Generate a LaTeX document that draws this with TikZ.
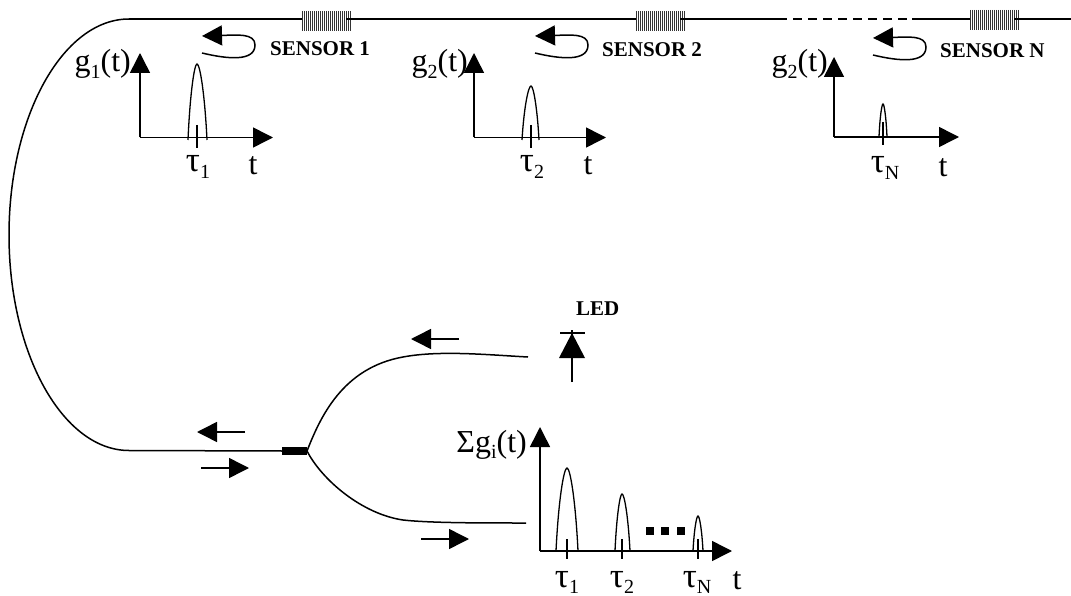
\documentclass[tikz,border=0pt]{standalone}
\usepackage{fontspec}
\setmainfont{Liberation Serif}
\usetikzlibrary{arrows.meta}
\newcommand{\lowr}[1]{\raisebox{-0.2em}{\fontsize{20}{20}\selectfont #1}}
\newcommand{\tauf}[1]{{\fontsize{35}{35}\selectfont τ}\lowr{#1}}
\newcommand{\axesat}[5]{% name, ox, oy, topy, rightx
  \coordinate (#1o) at (#2,#3);
  \coordinate (#1y) at (#2,#4);
  \coordinate (#1x) at (#5,#3);
  \draw[bigtip] (#1o) -- (#1y);
  \draw[bigtip] (#1o) -- (#1x);
}
\newcommand{\pulse}[7]{% name, left, right, centre, top, base, tick top
  \coordinate (#1l) at (#2,#6);
  \coordinate (#1r) at (#3,#6);
  \coordinate (#1t) at (#4,#5);
  \draw[pulseline] (#1l) .. controls ({#2+0.22*(#4-#2)},{#6-0.6*(#6-#5)}) and ({#4-0.3*(#4-#2)},#5) .. (#1t)
     .. controls ({#4+0.3*(#3-#4)},#5) and ({#3-0.22*(#3-#4)},{#6-0.6*(#6-#5)}) .. (#1r);
  \coordinate (#1a) at (#4,#7);
  \coordinate (#1b) at (#4,{#6+8});
  \draw[pulseline] (#1a) -- (#1b);
}
\newcommand{\gratingat}[3]{% name, left x, y
  \node[gratingbox] (#1) at (#2+24.5,#3) {};
  \foreach \i in {0,2,...,48} {\draw[black!80,line width=1.2pt] (#2+\i+0.5,#3-10) -- (#2+\i+0.5,#3+10);}
}
\newcommand{\loopat}[3]{% name, tip x, tip y
  \coordinate (#1s) at (#2,#3+17);
  \coordinate (#1e) at (#2,#3);
  \draw[bigtip] (#1s) .. controls (#2+25,#3+23) and (#2+53,#3+26) .. (#2+53,#3+9)
     .. controls (#2+53,#3-3) and (#2+35,#3-1) .. (#1e);
}
\tikzset{
  x=1pt,y=-1pt,
  fibre/.style={line width=1.5pt,black},
  bigtip/.style={line width=1.5pt,-{Triangle[length=20pt,width=20pt]}},
  pulseline/.style={line width=1.3pt},
  gratingbox/.style={minimum width=49pt,minimum height=20pt,inner sep=0pt,outer sep=0pt},
  lab/.style={font=\fontsize{32}{32}\selectfont,inner sep=0pt},
  senslab/.style={font=\fontsize{21}{21}\selectfont\bfseries,inner sep=0pt},
}
\begin{document}
\begin{tikzpicture}
\useasboundingbox (0,0) rectangle (1071,596);
% gratings
\gratingat{g1}{302}{21}
\gratingat{g2}{636}{21}
\gratingat{g3}{970}{20}
% fibre top
\coordinate (tl) at (129,19);
\coordinate (dash1) at (778,19);
\coordinate (dash2) at (912,19);
\coordinate (tr) at (1071,19);
\coordinate (bl) at (129,450.5);
\draw[fibre] (tl) -- (g1.west |- tl);
\draw[fibre] ([xshift=-5pt]g1.east |- tl) -- (g2.west |- tl);
\draw[fibre] ([xshift=-5pt]g2.east |- tl) -- (dash1);
\draw[fibre,dash pattern=on 9pt off 6pt] (dash1) -- (dash2);
\draw[fibre] (dash2) -- (g3.west |- tl);
\draw[fibre] ([xshift=-5pt]g3.east |- tl) -- (tr);
% big half-ellipse
\draw[fibre] (tl) .. controls (63,19) and (9,116) .. (9,235) .. controls (9,354) and (63,450.5) .. (bl);
% coupler
\coordinate (cl) at (282,451);
\coordinate (cr) at (307,451);
\coordinate (ue) at (528,357);
\coordinate (le) at (526,523);
\coordinate (um) at (403,357);
\coordinate (lm) at (403,520);
\draw[fibre] (bl) -- (cl);
\draw[line width=8pt] (cl) -- (cr);
\draw[fibre] (cr) .. controls (320,418) and (342,368) .. (um) .. controls (440,350) and (490,355) .. (ue);
\draw[fibre] (cr) .. controls (322,480) and (362,514) .. (lm) .. controls (430,523) and (480,523) .. (le);
% direction arrows
\coordinate (a1s) at (459,339); \coordinate (a1e) at (411,339);
\coordinate (a2s) at (245,432); \coordinate (a2e) at (197,432);
\coordinate (a3s) at (201,468); \coordinate (a3e) at (249,468);
\coordinate (a4s) at (421,539); \coordinate (a4e) at (469,539);
\draw[bigtip] (a1s) -- (a1e);
\draw[bigtip] (a2s) -- (a2e);
\draw[bigtip] (a3s) -- (a3e);
\draw[bigtip] (a4s) -- (a4e);
% LED
\coordinate (ledb) at (572,382);
\coordinate (ledt) at (572,330);
\coordinate (ledl) at (559,358);
\coordinate (ledr) at (585,358);
\coordinate (leda) at (572,333);
\coordinate (barl) at (560,333);
\coordinate (barr) at (585,333);
\draw[line width=1.3pt] (ledb) -- (ledt);
\draw[line width=1.3pt] (barl) -- (barr);
\fill (leda) -- (ledl) -- (ledr) -- cycle;
\node[senslab,anchor=base west] (ledlab) at (576,315) {LED};
% sensor loops
\loopat{l1}{202}{36}
\loopat{l2}{535}{36}
\loopat{l3}{873}{38}
\node[senslab,anchor=base west] (s1) at (270,56) {SENSOR 1};
\node[senslab,anchor=base west] (s2) at (602,57) {SENSOR 2};
\node[senslab,anchor=base west] (s3) at (940,58) {SENSOR N};
% graph 1
\axesat{a}{140}{137.5}{53}{273}
\pulse{pa}{188}{207}{197}{64}{140}{125}
\node[lab,anchor=base east] (ga) at (131,72) {g\lowr{1}(t)};
\node[lab,anchor=base] (ta) at (198,172) {\tauf{1}};
\node[lab,anchor=base] (xa) at (253,175) {t};
% graph 2
\axesat{b}{474}{137.5}{53}{606}
\pulse{pb}{522}{539}{531}{86}{140}{125}
\node[lab,anchor=base east] (gb) at (468,72) {g\lowr{2}(t)};
\node[lab,anchor=base] (tb) at (532,172) {\tauf{2}};
\node[lab,anchor=base] (xb) at (588,175) {t};
% graph N
\axesat{c}{834}{137}{57}{959}
\pulse{pc}{879}{887}{883}{104}{137}{122}
\node[lab,anchor=base east] (gc) at (828,72) {g\lowr{2}(t)};
\node[lab,anchor=base] (tc) at (885,173) {\tauf{N}};
\node[lab,anchor=base] (xc) at (943,177) {t};
% sum graph
\axesat{d}{540}{551}{427}{732}
\pulse{pd}{556}{578}{567}{468}{551}{539}
\pulse{pe}{615}{630}{622}{494}{551}{539}
\pulse{pf}{693}{703}{698}{516}{551}{539}
\foreach \x/\n in {650/q1,665/q2,681/q3} {\node[fill=black,minimum size=8pt,inner sep=0pt] (\n) at (\x,531) {};}
\node[lab,anchor=base east] (gd) at (527,452) {Σg\lowr{i}(t)};
\node[lab,anchor=base] (td) at (567,587) {\tauf{1}};
\node[lab,anchor=base] (te) at (622,587) {\tauf{2}};
\node[lab,anchor=base] (tf) at (697,587) {\tauf{N}};
\node[lab,anchor=base] (xd) at (737,589) {t};
\end{tikzpicture}
\end{document}
